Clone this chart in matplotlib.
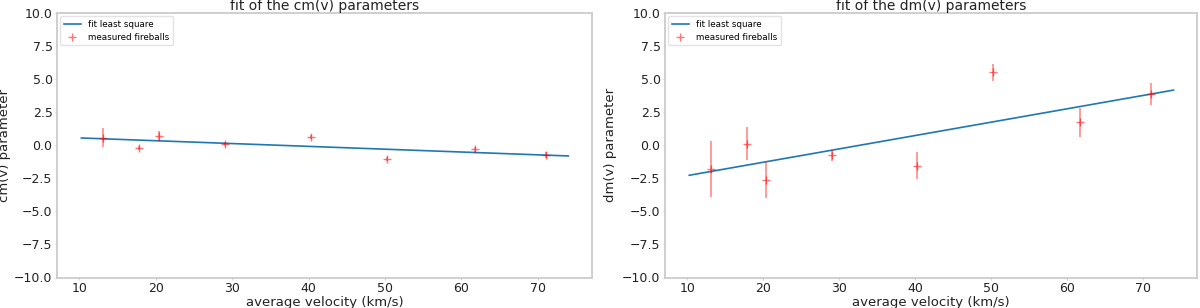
import matplotlib
matplotlib.use("Agg")
import matplotlib.pyplot as plt
import numpy as np

velocity = [13.15, 17.85, 20.4, 29.1, 40.3, 50.25, 61.75, 71.1]
cm_values = [0.58, -0.18, 0.70, 0.12, 0.65, -1.06, -0.30, -0.74]
cm_errors = [0.73, 0.15, 0.35, 0.15, 0.15, 0.15, 0.20, 0.22]
dm_values = [-1.80, 0.12, -2.65, -0.76, -1.55, 5.51, 1.74, 3.88]
dm_errors = [2.10, 1.25, 1.35, 0.40, 1.02, 0.67, 1.10, 0.82]

fit_velocity = [10.26, 74.0]
fit_cm = [0.55, -0.81]
fit_dm = [-2.27, 4.17]

W, H = 1200, 308
fig = plt.figure(figsize=(W / 100, H / 100), dpi=100)

def make_ax(left, right, top, bottom):
    return fig.add_axes([left / W, 1 - bottom / H, (right - left) / W, (bottom - top) / H])

ax1 = make_ax(57, 592, 13, 277.5)
ax2 = make_ax(665, 1197, 13, 277.5)

panels = [
    (ax1, 57, 592, cm_values, cm_errors, fit_cm, "fit of the cm(v) parameters", "cm(v) parameter", 11.5),
    (ax2, 665, 1197, dm_values, dm_errors, fit_dm, "fit of the dm(v) parameters", "dm(v) parameter", 617),
]

txt = "#222222"
for ax, l, r, vals, errs, fit, title, ylabel, ylab_x in panels:
    ax.plot(fit_velocity, fit, color="#1f77b4", lw=1.2, label="fit least square")
    ax.errorbar(velocity, vals, yerr=errs, fmt="none", ecolor="red", alpha=0.5,
                elinewidth=1.1, capsize=0)
    ax.plot(velocity, vals, "+", color="red", alpha=0.55, markersize=6,
            markeredgewidth=1.0, label="measured fireballs")
    ax.set_xlim(7.07, 77.1)
    ax.set_ylim(-10, 10)
    ax.set_yticks(np.arange(-10, 10.01, 2.5))
    ax.set_xticks([10, 20, 30, 40, 50, 60, 70])
    ax.set_title(title, fontsize=10, pad=1.5, color=txt)
    ax.set_xlabel("average velocity (km/s)", fontsize=9.5, labelpad=0.5, color=txt)
    ax.set_ylabel(ylabel, fontsize=9.5, color=txt)
    ax.yaxis.set_label_coords((ylab_x - l) / (r - l), 0.5)
    ax.tick_params(labelsize=9, length=1.5, width=0.8, color="#cccccc", pad=1.7, labelcolor=txt)
    for s in ax.spines.values():
        s.set_color("#cccccc")
        s.set_linewidth(1.3)
    leg = ax.legend(loc="upper left", fontsize=6.3, frameon=True, borderaxespad=0.35,
                    handlelength=2.0)
    leg.get_frame().set_edgecolor("#dddddd")

fig.savefig("out.png", dpi=100)
